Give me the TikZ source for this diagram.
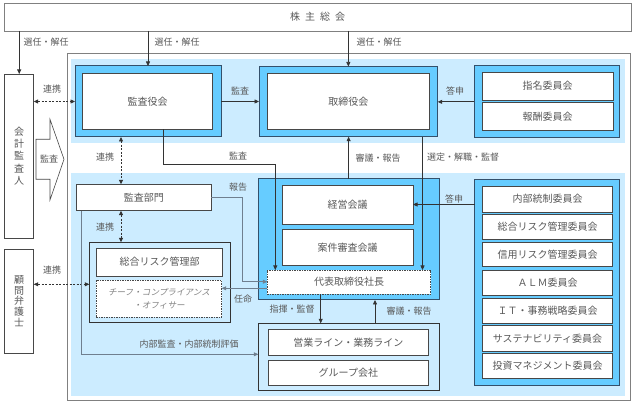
\documentclass[tikz,border=0pt]{standalone}
\usepackage{fontspec}
\setmainfont{Noto Sans CJK JP}
\newfontfamily\jpslant{Noto Sans CJK JP}[FakeSlant=0.2]
\usetikzlibrary{arrows.meta,calc}
\definecolor{lband}{HTML}{CCECFF}
\definecolor{bfill}{HTML}{66CCFF}
\definecolor{bdark}{HTML}{34506B}
\definecolor{txt}{HTML}{595959}
\definecolor{ln}{HTML}{333333}
\definecolor{gln}{HTML}{6F7F8F}
\definecolor{obrd}{HTML}{808080}
\newcommand\bx[7]{\node[#6, outer sep=0pt, inner sep=0pt, minimum width={(#4-#2)*1pt}, minimum height={(#5-#3)*1pt}] (#1) at ({(#2+#4)/2},{(#3+#5)/2}) {#7};}
\begin{document}
\begin{tikzpicture}[x=1pt,y=-1pt,
  every node/.style={text=txt, font=\fontsize{10}{12}\selectfont},
  wbox/.style={draw=ln!90, fill=white, line width=0.8pt},
  dbox/.style={draw=ln!90, fill=white, line width=0.7pt, dash pattern=on 1.5pt off 1pt},
  bframe/.style={draw=bdark, fill=bfill, line width=1pt},
  gframe/.style={draw=ln, line width=0.8pt},
  lbl/.style={font=\fontsize{9}{10}\selectfont, inner sep=0pt},
  arr/.style={draw=ln, line width=0.7pt, -{Triangle[length=4.5pt,width=4pt]}},
  darr/.style={draw=ln, line width=0.7pt, dash pattern=on 2pt off 1.5pt, {Triangle[length=4.5pt,width=4pt]}-{Triangle[length=4.5pt,width=4pt]}},
]
\fill[white] (0,0) rectangle (635,406);
\useasboundingbox (0,0) rectangle (635,406);

% frames and bands
\bx{kabu}{4}{3}{631}{31}{draw=obrd,fill=white,line width=0.8pt}{株\hspace{5pt}主\hspace{5pt}総\hspace{5pt}会}
\bx{outer}{67}{53}{630.5}{400.5}{draw=obrd,fill=white,line width=0.8pt}{}
\bx{bandT}{71}{59.5}{625}{143.5}{fill=lband}{}
\bx{bandB}{71}{173}{625}{395.5}{fill=lband}{}

% top row
\bx{kyk}{75}{66}{221}{137}{bframe}{}
\bx{kykin}{82.7}{73.3}{212.7}{129.3}{wbox}{監査役会}
\bx{trf}{259}{66.5}{437.7}{136.7}{bframe}{}
\bx{trin}{267.3}{73.3}{429.3}{129.3}{wbox}{取締役会}
\bx{cmtT}{474.3}{66}{619.3}{137.7}{bframe}{}
\bx{shimei}{482}{72}{613}{100.3}{wbox}{指名委員会}
\bx{hoshu}{482}{102.7}{613}{130.7}{wbox}{報酬委員会}

% left side
\bx{kaikei}{4.7}{74}{33.7}{238}{wbox,line width=0.7pt}{}
\node[align=center, font=\fontsize{10}{12.4}\selectfont] (kaikeit) at (kaikei) {会\\計\\監\\査\\人};
\bx{komon}{4.7}{249}{33.7}{353.3}{wbox,line width=0.7pt}{}
\node[align=center, font=\fontsize{10}{10.8}\selectfont] (komont) at (komon) {顧\\問\\弁\\護\\士};
\draw[draw=ln!90, fill=white, line width=0.6pt] (36,139.3) -- (50,139.3) -- (50,119.3) -- (64,159.3) -- (50,200) -- (50,179.3) -- (36,179.3) -- cycle;
\node[lbl] (bigarr) at (49,158.5) {監査};

% audit dept and risk group
\bx{kansabu}{76.3}{184.3}{211.3}{210.7}{wbox}{監査部門}
\bx{grp}{89.3}{242.3}{230}{322.3}{gframe,fill=lband}{}
\bx{risk}{96.3}{248}{222.7}{276}{wbox}{総合リスク管理部}
\bx{chief}{96.3}{280.3}{221.7}{317}{dbox}{}
\node[align=center, text=txt!75, font=\jpslant\fontsize{8.6}{13.3}\selectfont] (chieft) at (chief) {チーフ・コンプライアンス\\・オフィサー};

% management
\bx{mgmt}{258.3}{179}{439}{300}{bframe}{}
\bx{keiei}{282.3}{185}{413}{224}{wbox}{経営会議}
\bx{anken}{282.3}{229.3}{413}{265.7}{wbox}{案件審査会議}
\bx{daihyo}{267.3}{270}{430.7}{294.3}{dbox}{代表取締役社長}
\bx{eigyoG}{258.3}{323.3}{439}{390.3}{gframe,fill=lband}{}
\bx{eigyo}{268.3}{329.3}{428.3}{355.7}{wbox}{営業ライン・業務ライン}
\bx{group}{268.3}{360}{428.3}{385}{wbox}{グループ会社}

% right committees
\bx{cmtB}{474.7}{179.3}{619.3}{385.7}{bframe}{}
\bx{c1}{482.3}{186}{612.7}{212.3}{wbox}{内部統制委員会}
\bx{c2}{482.3}{214.3}{612.7}{239.3}{wbox}{総合リスク管理委員会}
\bx{c3}{482.3}{242}{612.7}{266.7}{wbox}{信用リスク管理委員会}
\bx{c4}{482.3}{270}{612.7}{295.7}{wbox}{ＡＬＭ委員会}
\bx{c5}{482.3}{298.3}{612.7}{323.3}{wbox}{ＩＴ・事務戦略委員会}
\bx{c6}{482.3}{325.3}{612.7}{351.7}{wbox}{サステナビリティ委員会}
\bx{c7}{482.3}{353.3}{612.7}{378.3}{wbox}{投資マネジメント委員会}

% connectors
\draw[arr] (kaikei.north |- kabu.south) -- (kaikei.north);
\node[lbl] (l1) at (46,42) {選任・解任};
\draw[arr] (kyk.north |- kabu.south) -- (kyk.north);
\node[lbl] (l2) at (177,42) {選任・解任};
\draw[arr] (trf.north |- kabu.south) -- (trf.north);
\node[lbl] (l3) at (379,42) {選任・解任};

\draw[darr] (kaikei.east |- kyk.west) -- (kyk.west);
\node[lbl] (l4) at (52,89) {連携};
\draw[arr] (kyk.east) -- (kyk.east -| trf.west);
\node[lbl] (l5) at (240,91) {監査};
\coordinate (f1) at (275.3,164);
\draw[arr] ([xshift=15.6pt]kykin.south) |- (f1) -- (f1 |- daihyo.north);
\node[lbl] (l6) at (238,156) {監査};
\draw[arr] (mgmt.north) -- (mgmt.north |- trf.south);
\node[lbl] (l7) at (378,157.7) {審議・報告};
\coordinate (h1) at (422.5,0);
\draw[arr] (trf.south -| h1) -- (daihyo.north -| h1);
\node[lbl] (l8) at (463,157) {選定・解職・監督};
\draw[arr] (cmtT.west) -- (cmtT.west -| trf.east);
\node[lbl] (l9) at (455,91) {答申};
\draw[arr] (cmtB.west |- keiei.east) -- (keiei.east);
\node[lbl] (l10) at (454,199) {答申};

\coordinate (k1) at (121,0);
\draw[darr] (kyk.south -| k1) -- (kansabu.north -| k1);
\node[lbl] (l11) at (105,157) {連携};
\draw[darr] (kansabu.south -| k1) -- (grp.north -| k1);
\node[lbl] (l12) at (105,227) {連携};
\coordinate (m1) at (0,284.3);
\draw[darr] (komon.east |- m1) -- (grp.west |- m1);
\node[lbl] (l13) at (52,270) {連携};

\coordinate (n1) at (242.7,281.7);
\draw[arr, draw=gln] (kansabu.east) -| (n1) -- (n1 -| daihyo.west);
\node[lbl] (l14) at (238,187) {報告};
\coordinate (o1) at (0,288.3);
\draw[arr, draw=gln] (daihyo.west |- o1) -- (chief.east |- o1);
\node[lbl] (l15) at (243,299) {任命};
\coordinate (p1) at (81.7,354.3);
\draw[arr, draw=gln] (kansabu.south -| p1) |- (p1 -| eigyoG.west);
\node[lbl] (l16) at (189,344) {内部監査・内部統制評価};
\coordinate (q1) at (320.7,0);
\draw[arr] (daihyo.south -| q1) -- (eigyoG.north -| q1);
\node[lbl] (l17) at (292,309.5) {指揮・監督};
\coordinate (r1) at (375,0);
\draw[arr] (eigyoG.north -| r1) -- (mgmt.south -| r1);
\node[lbl] (l18) at (409,311.5) {審議・報告};
\end{tikzpicture}
\end{document}
